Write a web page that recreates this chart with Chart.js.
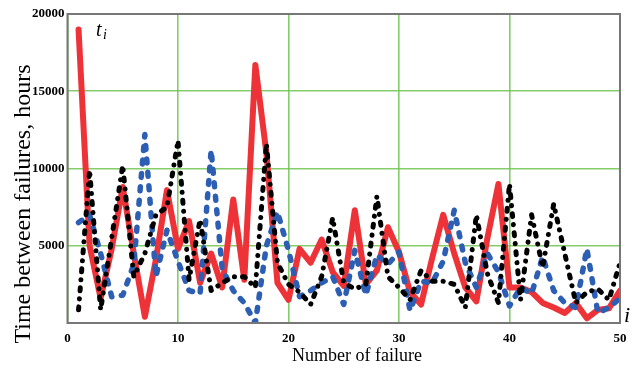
<!DOCTYPE html>
<html>
<head>
<meta charset="utf-8">
<script src="https://cdn.jsdelivr.net/npm/chart.js@4/dist/chart.umd.min.js"></script>
<style>
    html, body { margin: 0; padding: 0; background: #fff; }
    #wrap { position: relative; width: 638px; height: 367px; }
</style>
</head>
<body>
<div id="wrap"><canvas id="chart"></canvas></div>
<script>
// failure number i
const failures = [1, 2, 3, 4, 5, 6, 7, 8, 9, 10, 11, 12, 13, 14, 15, 16, 17, 18, 19, 20,
    21, 22, 23, 24, 25, 26, 27, 28, 29, 30, 31, 32, 33, 34, 35, 36, 37, 38, 39, 40,
    41, 42, 43, 44, 45, 46, 47, 48, 49, 50];

// time between failures t_i, hours
const redHours = [19000, 5000, 1600, 4800, 8800, 4500, 400, 4100, 8600, 4800,
    6600, 2600, 4500, 2300, 8000, 2800, 16700, 11000, 2600, 1500,
    4800, 3900, 5400, 3300, 2400, 7300, 2500, 3400, 6200, 4600,
    2000, 1200, 4200, 7000, 4500, 2300, 1400, 5500, 9000, 2300,
    2300, 2000, 1300, 1000, 650, 1300, 300, 850, 950, 2100];

const blueHours = [6500, 7000, 4500, 1700, 1800, 3800, 12200, 3000, 6000, 4000,
    2100, 1900, 11200, 3500, 2100, 1300, 0, 5000, 7200, 4700,
    1700, 2100, 2600, 3000, 1200, 4700, 1800, 4400, 3800, 4600,
    800, 2700, 2600, 4000, 7300, 3900, 2300, 4500, 3300, 1100,
    2300, 1900, 4300, 2100, 1300, 1000, 4800, 650, 1000, 1600];

const blackHours = [850, 9900, 850, 5500, 10200, 3000, 4500, 7000, 7500, 11800,
    2800, 6700, 2100, 2600, 3000, 3000, 2300, 11600, 3900, 2500,
    2000, 1200, 3000, 6800, 2600, 2200, 2500, 8200, 3000, 2300,
    1500, 3400, 2700, 2700, 2500, 1000, 7000, 3200, 1300, 9000,
    1500, 7000, 3600, 7700, 4500, 1300, 2000, 2200, 1500, 3900];

const xTicks = [0, 10, 20, 30, 40, 50];
const yTicks = [0, 5000, 10000, 15000, 20000];

const toPoints = (ys) => failures.map((x, i) => ({x: x, y: ys[i]}));

const serif = '"Liberation Serif", "DejaVu Serif", serif';
const gridGreen = 'rgba(110, 196, 80, 0.85)';

// frame round the plot and the free-standing labels
const decorations = {
    id: 'decorations',
    afterDraw(chart) {
        const {ctx, chartArea: a} = chart;
        ctx.save();
        ctx.strokeStyle = '#777';
        ctx.lineWidth = 2;
        ctx.strokeRect(a.left, a.top, a.right - a.left, a.bottom - a.top);

        ctx.fillStyle = '#000';
        // y title
        ctx.save();
        ctx.translate(24, 204);
        ctx.rotate(-Math.PI / 2);
        ctx.font = '24px ' + serif;
        ctx.textAlign = 'center';
        ctx.textBaseline = 'middle';
        ctx.fillText('Time between failures, hours', 0, 0);
        ctx.restore();

        // x title
        ctx.font = '18px ' + serif;
        ctx.textAlign = 'center';
        ctx.textBaseline = 'alphabetic';
        ctx.fillText('Number of failure', 357, 361);

        // t_i
        ctx.textAlign = 'left';
        ctx.font = 'italic 20px ' + serif;
        ctx.fillText('t', 96, 36);
        ctx.font = 'italic 14px ' + serif;
        ctx.fillText('i', 103, 39);

        // i
        ctx.font = 'italic 22px ' + serif;
        ctx.fillText('i', 624, 322);
        ctx.restore();
    }
};

new Chart(document.querySelector('#chart'), {
    type: 'line',
    data: {
        datasets: [
            {
                label: 'red',
                data: toPoints(redHours),
                borderColor: '#ee3338',
                borderWidth: 6,
                borderCapStyle: 'round',
                borderJoinStyle: 'round',
                order: 3
            },
            {
                label: 'blue',
                data: toPoints(blueHours),
                borderColor: '#2c5fb3',
                borderWidth: 5.5,
                borderDash: [4, 9.5],
                borderCapStyle: 'round',
                borderJoinStyle: 'round',
                order: 2
            },
            {
                label: 'black',
                data: toPoints(blackHours),
                borderColor: '#000',
                borderWidth: 5,
                borderDash: [3, 8, 0.1, 8],
                borderCapStyle: 'round',
                borderJoinStyle: 'round',
                order: 1
            }
        ]
    },
    options: {
        responsive: true,
        maintainAspectRatio: false,
        animation: false,
        events: [],
        elements: {
            point: {radius: 0},
            line: {tension: 0, fill: false}
        },
        layout: {
            padding: {left: 0, right: 18, top: 14, bottom: 0}
        },
        plugins: {
            legend: {display: false},
            tooltip: {enabled: false}
        },
        scales: {
            x: {
                type: 'linear',
                min: xTicks[0],
                max: xTicks[xTicks.length - 1],
                afterBuildTicks: (scale) => { scale.ticks = xTicks.map(v => ({value: v})); },
                afterFit: (scale) => { scale.height = 44; },
                grid: {
                    color: gridGreen,
                    lineWidth: 1.6,
                    drawTicks: false
                },
                border: {display: false},
                ticks: {
                    padding: 8,
                    color: '#000',
                    font: {family: serif, size: 13, weight: 'bold'},
                    maxRotation: 0
                }
            },
            y: {
                type: 'linear',
                min: yTicks[0],
                max: yTicks[yTicks.length - 1],
                afterBuildTicks: (scale) => { scale.ticks = yTicks.map(v => ({value: v})); },
                afterFit: (scale) => { scale.width = 67.5; },
                grid: {
                    color: gridGreen,
                    lineWidth: 1.6,
                    drawTicks: false
                },
                border: {display: false},
                ticks: {
                    padding: 3,
                    color: '#000',
                    font: {family: serif, size: 13, weight: 'bold'},
                    callback: (v) => v === 0 ? '' : String(v)
                }
            }
        }
    },
    plugins: [decorations]
});
</script>
</body>
</html>
